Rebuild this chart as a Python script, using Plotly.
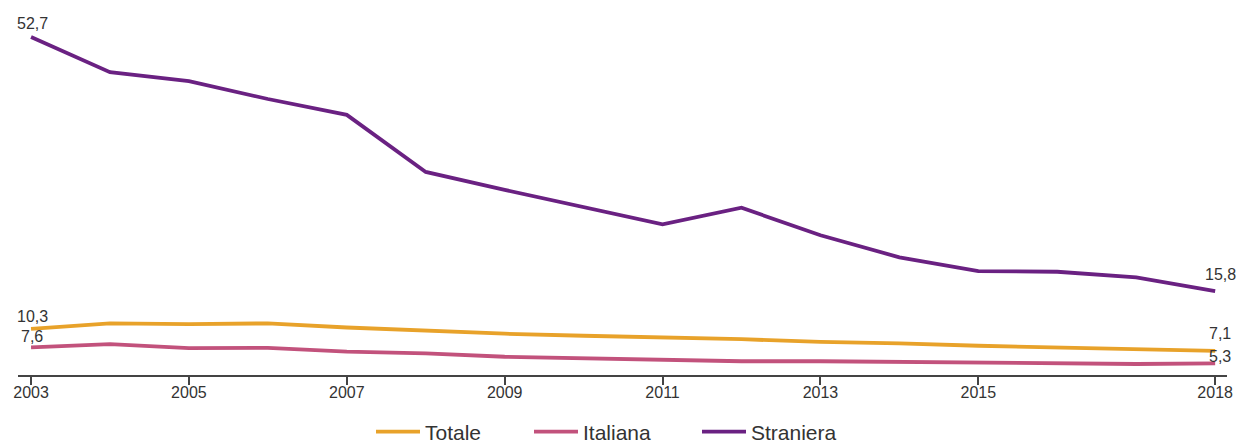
import plotly.graph_objects as go

years = list(range(2003, 2019))
totale = [10.3, 11.1, 11.0, 11.1, 10.5, 10.0, 9.6, 9.3, 9.1, 8.8, 8.4, 8.2, 7.85, 7.6, 7.3, 7.1]
italiana = [7.6, 8.1, 7.5, 7.55, 7.0, 6.75, 6.25, 6.0, 5.8, 5.6, 5.6, 5.5, 5.45, 5.3, 5.2, 5.3]
straniera = [52.7, 47.6, 46.3, 43.7, 41.4, 33.1, 30.5, 28.0, 25.5, 27.9, 23.9, 20.7, 18.7, 18.6, 17.8, 15.8]
tick_years = [2003, 2005, 2007, 2009, 2011, 2013, 2015, 2018]

series_names = ["Totale", "Italiana", "Straniera"]
series_values = [totale, italiana, straniera]
series_colors = ["#E8A22A", "#C2527C", "#6A2182"]

# label placement (pixel shifts): (first point, last point)
label_yshift = {"Totale": (12, 17), "Italiana": (11, 7), "Straniera": (14, 17)}
legend_keys = ["legend", "legend2", "legend3"]
legend_x_px = [371, 529, 697]

FONT = "Liberation Sans, Arial, sans-serif"

def fmt(v):
    return f"{v:.1f}".replace(".", ",")

fig = go.Figure()
for name, vals, color, lg in zip(series_names, series_values, series_colors, legend_keys):
    fig.add_trace(go.Scatter(
        x=years, y=vals, name=name, mode="lines",
        line=dict(color=color, width=3.8), legend=lg,
    ))

for name, vals in zip(series_names, series_values):
    for k, i in enumerate((0, len(years) - 1)):
        fig.add_annotation(
            x=years[i], y=vals[i], text=fmt(vals[i]),
            showarrow=False, yanchor="middle", xanchor="center",
            yshift=label_yshift[name][k], xshift=(1 if k == 0 else 5),
            font=dict(family=FONT, size=16, color="#333333"),
        )

legend_common = dict(
    orientation="h", xref="container", yref="container",
    xanchor="left", yanchor="middle", y=(443 - 432) / 443,
    font=dict(family=FONT, size=21, color="#333333"), itemwidth=44,
    bgcolor="rgba(0,0,0,0)",
)
legend_layout = {}
for lg, xp in zip(legend_keys, legend_x_px):
    legend_layout[lg] = dict(legend_common, x=xp / 1240)

fig.update_layout(
    width=1240, height=443,
    margin=dict(l=18, r=13, t=20, b=68, autoexpand=False),
    paper_bgcolor="white", plot_bgcolor="white",
    separators=",.",
    font=dict(family=FONT, size=16, color="#333333"),
    showlegend=True,
    xaxis=dict(
        range=[2002.835, 2018.15], tickvals=tick_years,
        ticktext=[str(t) for t in tick_years],
        showgrid=False, zeroline=False, automargin=False,
        showline=True, linecolor="#444444", linewidth=1.5,
        ticks="outside", ticklen=8, tickcolor="#444444", tickwidth=1.5,
        ticklabelstandoff=-6,
        tickfont=dict(family=FONT, size=16, color="#333333"),
    ),
    yaxis=dict(
        range=[3.6, 55.18], visible=False, showgrid=False, zeroline=False,
        automargin=False,
    ),
    **legend_layout,
)

fig.write_html(
    "out.html",
    config={"displayModeBar": False},
    post_script="document.body.style.margin='0';document.body.style.overflow='hidden';",
)
